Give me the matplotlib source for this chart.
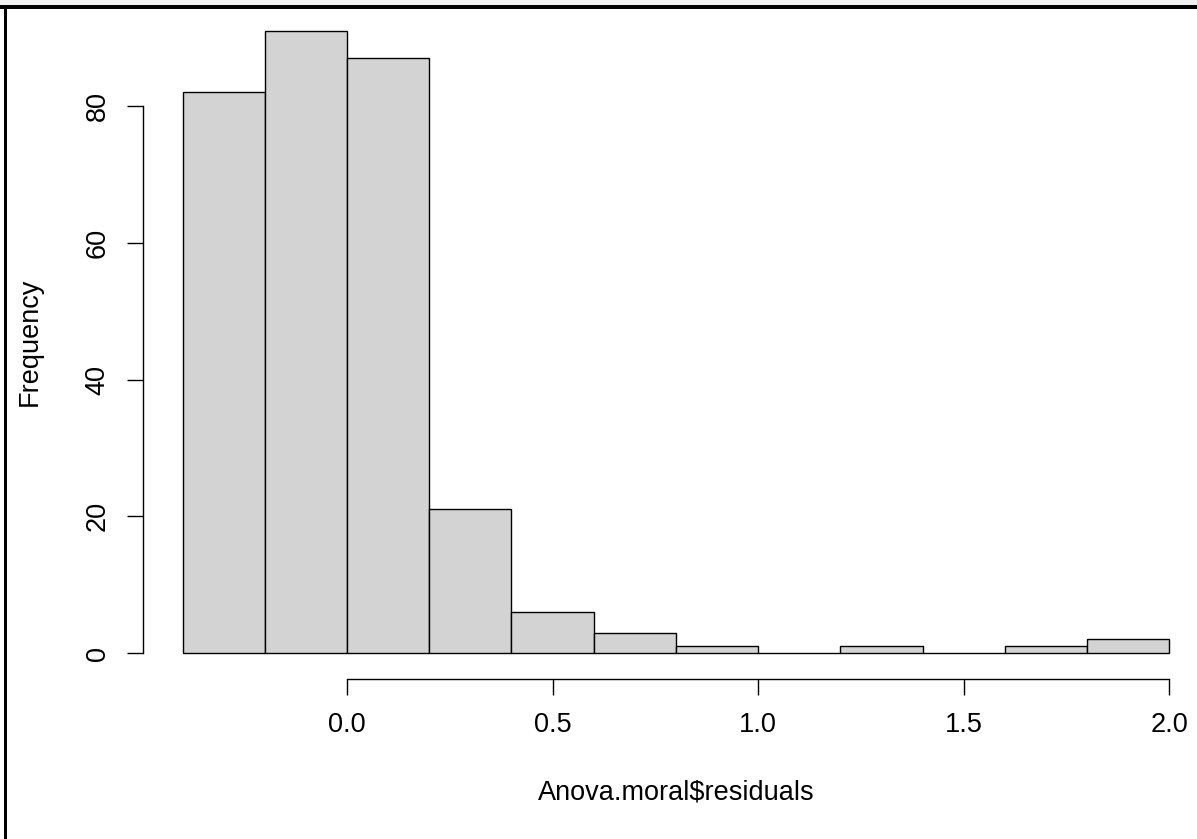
import numpy as np
import matplotlib
matplotlib.use("Agg")
from matplotlib import pyplot as plt
from matplotlib.patches import Rectangle

# histogram of residuals
bin_edges = [-0.4, -0.2, 0.0, 0.2, 0.4, 0.6, 0.8, 1.0, 1.2, 1.4, 1.6, 1.8, 2.0]
counts = [82, 91, 87, 21, 6, 3, 1, 0, 1, 0, 1, 2]
x_ticks = [0.0, 0.5, 1.0, 1.5, 2.0]
x_tick_labels = ['0.0', '0.5', '1.0', '1.5', '2.0']
y_ticks = [0, 20, 40, 60, 80]

plt.rcParams['font.family'] = ['Liberation Sans', 'DejaVu Sans']
fs = 19.5

fig = plt.figure(figsize=(11.97, 8.39), dpi=100)
fig.patch.set_facecolor('white')

# window frame of the screenshot
fig.add_artist(Rectangle((0, 1 - 5 / 839), 1, 5 / 839, transform=fig.transFigure,
                         facecolor='#f0f0f0', edgecolor='none'))
fig.add_artist(Rectangle((0, 1 - 9 / 839), 1, 4 / 839, transform=fig.transFigure,
                         facecolor='black', edgecolor='none'))
fig.add_artist(Rectangle((4 / 1197, 0), 3 / 1197, 1 - 5 / 839, transform=fig.transFigure,
                         facecolor='black', edgecolor='none'))

ax = fig.add_axes([0.1196, 0.1920, 0.8901, 0.8010])
ax.set_xlim(-0.496, 2.096)
ax.set_ylim(-3.64, 94.64)

edges = np.array(bin_edges)
ax.bar(edges[:-1], counts, width=np.diff(edges), align='edge',
       color='#d3d3d3', edgecolor='black', linewidth=1.0)

for side in ['top', 'right']:
    ax.spines[side].set_visible(False)
ax.spines['left'].set_bounds(0, 80)
ax.spines['bottom'].set_bounds(0, 2)
ax.spines['bottom'].set_position(('outward', 1))
for side in ['left', 'bottom']:
    ax.spines[side].set_linewidth(1.0)

ax.set_xticks(x_ticks)
ax.set_xticklabels(x_tick_labels)
ax.set_yticks(y_ticks)
ax.set_yticklabels([str(v) for v in y_ticks], rotation=90, va='center')
ax.tick_params(axis='both', length=11.5, width=1.0, labelsize=fs, pad=12)

ax.set_xlabel('Anova.moral\\$residuals', fontsize=fs, labelpad=30)
ax.set_ylabel('Frequency', fontsize=fs, labelpad=30)

fig.savefig('out.png', dpi=100)
